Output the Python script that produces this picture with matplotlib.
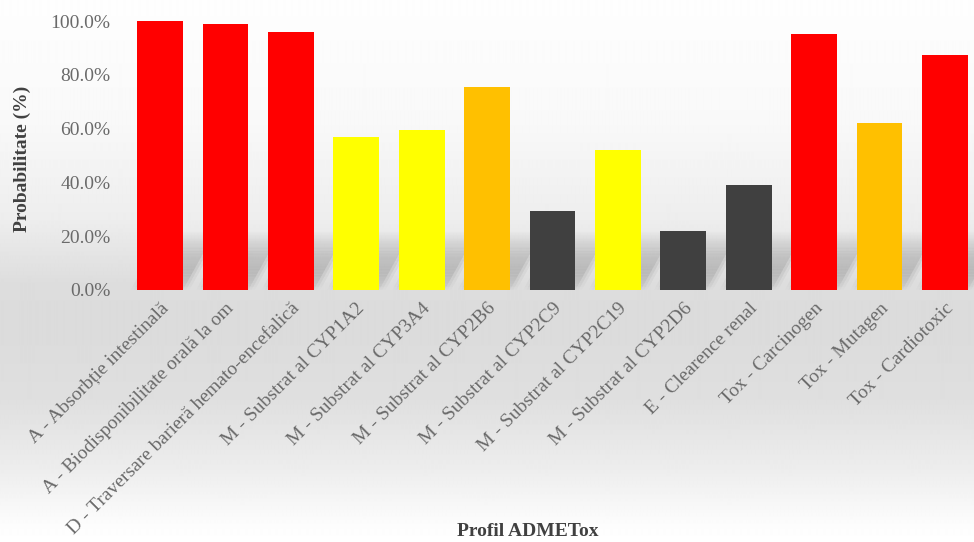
import matplotlib
matplotlib.use("Agg")
import matplotlib.pyplot as plt
import numpy as np
from matplotlib.ticker import FuncFormatter

categories = [
    "A - Absorbție intestinală",
    "A - Biodisponibilitate orală la om",
    "D - Traversare barieră hemato-encefalică",
    "M - Substrat al CYP1A2",
    "M - Substrat al CYP3A4",
    "M - Substrat al CYP2B6",
    "M - Substrat al CYP2C9",
    "M - Substrat al CYP2C19",
    "M - Substrat al CYP2D6",
    "E - Clearence renal",
    "Tox - Carcinogen",
    "Tox - Mutagen",
    "Tox - Cardiotoxic",
]
values = [100.0, 99.0, 96.0, 57.0, 59.5, 75.5, 29.5, 52.0, 22.0, 39.0, 95.0, 62.0, 87.5]
colors = ["#FF0000", "#FF0000", "#FF0000", "#FFFF00", "#FFFF00", "#FFC000",
          "#404040", "#FFFF00", "#404040", "#404040", "#FF0000", "#FFC000", "#FF0000"]

plt.rcParams['font.family'] = ['Liberation Serif', 'DejaVu Serif']

W, H = 974, 542
fig = plt.figure(figsize=(W / 100, H / 100), dpi=100)

# background gradient
bg = fig.add_axes([0, 0, 1, 1], zorder=-10)
ys = np.array([0, 120, 220, 285, 330, 400, 470, 525, 542])
gs = np.array([0.995, 0.975, 0.93, 0.865, 0.86, 0.875, 0.93, 0.99, 1.0])
rows = np.interp(np.arange(H), ys, gs)
img = np.repeat(rows[:, None], 4, axis=1)
bg.imshow(img, cmap="gray", vmin=0, vmax=1, aspect="auto", extent=[0, 1, 0, 1], interpolation="bilinear")
bg.axis("off")

ax = fig.add_axes([127.3 / W, (H - 290) / H, 850.4 / W, 269 / H])
ax.set_facecolor("none")
x = np.arange(len(categories))
vals = np.array(values) / 100.0
bw = 0.70

# soft perspective shadows
SH_H, SH_S, N = 0.22, 0.5, 40
for xi in x:
    for spread, amax in ((0.0, 0.10), (0.05, 0.07), (0.10, 0.05)):
        xl, xr = xi - bw / 2 - spread, xi + bw / 2 + spread
        for k in range(N):
            h0, h1 = SH_H * k / N, SH_H * (k + 1) / N
            s0, s1 = SH_S * k / N, SH_S * (k + 1) / N
            a = amax * np.sin(np.pi * min(1.0, (k + 0.5) / N * 1.0)) ** 0.6 * (1 - k / N) ** 0.5
            ax.fill([xl + s0, xr + s0, xr + s1, xl + s1], [h0, h0, h1, h1],
                    color="black", alpha=a, lw=0, zorder=1)

ax.bar(x, vals, width=bw, color=colors, zorder=3)

ax.set_xlim(-0.5, len(categories) - 0.5)
ax.set_ylim(0, 1.0)
ax.set_yticks(np.arange(0, 1.01, 0.2))
ax.yaxis.set_major_formatter(FuncFormatter(lambda v, p: f"{v*100:.1f}%"))
ax.set_xticks(x)
ax.set_xticklabels(categories, rotation=45, ha="right", rotation_mode="anchor")
ax.tick_params(axis="both", length=0, colors="#6a6a6a", labelsize=14)
ax.tick_params(axis="y", pad=12)
ax.tick_params(axis="x", pad=7)
for s in ax.spines.values():
    s.set_visible(False)

fig.text(22 / W, 1 - 159 / H, "Probabilitate (%)", rotation=90, ha="center", va="center",
         fontsize=14, fontweight="bold", color="#404040")
fig.text(528 / W, 1 - 532 / H, "Profil ADMETox", ha="center", va="center",
         fontsize=14, fontweight="bold", color="#404040")

fig.savefig("out.png", dpi=100)
